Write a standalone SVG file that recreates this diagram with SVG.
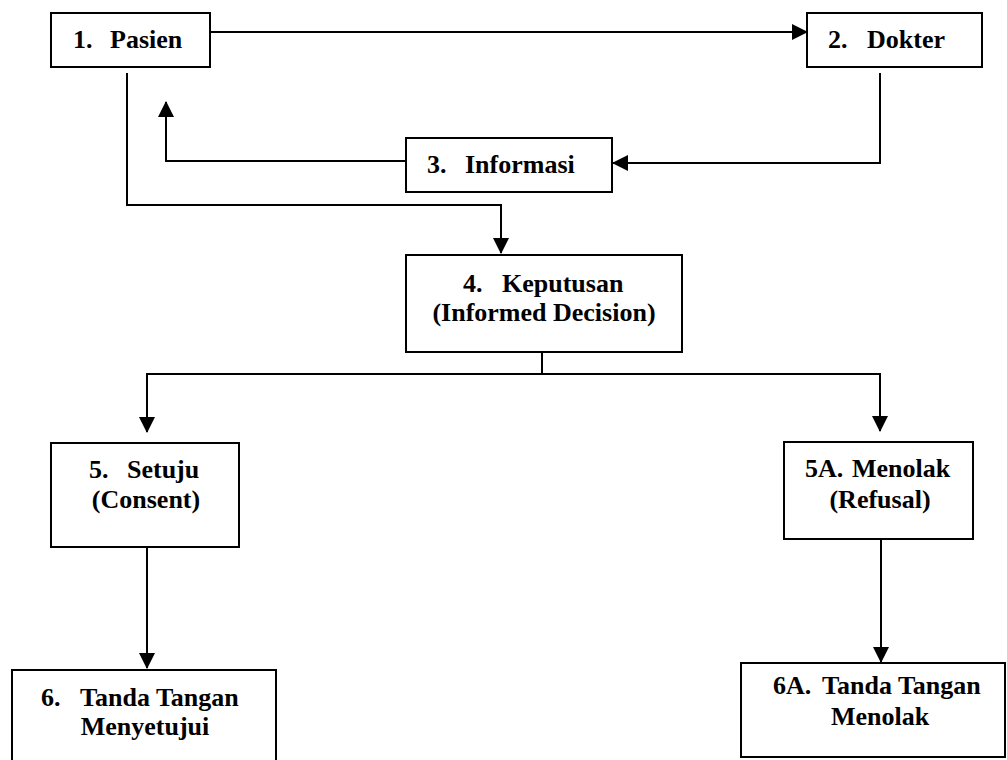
<svg xmlns="http://www.w3.org/2000/svg" width="1007" height="760" viewBox="0 0 1007 760">
<style>
.box{fill:#fff;stroke:#000;stroke-width:2}
text{font-family:'Liberation Serif','Times New Roman','DejaVu Serif',serif;font-weight:bold;font-size:26px;fill:#000}
.m{text-anchor:middle}
.c{fill:none;stroke:#000;stroke-width:2}
</style>
<defs>
<marker id="ah" markerUnits="userSpaceOnUse" markerWidth="16" markerHeight="16" refX="15" refY="8" orient="auto">
<path d="M0,0 L16,8 L0,16 z" fill="#000"/>
</marker>
</defs>
<rect width="1007" height="760" fill="#fff"/>
<g id="connectors">
<path class="c" d="M210,32 H807" marker-end="url(#ah)"/>
<path class="c" d="M880,73 V163 H613" marker-end="url(#ah)"/>
<path class="c" d="M406,161 H166 V102" marker-end="url(#ah)"/>
<path class="c" d="M127,73 V205 H501 V253" marker-end="url(#ah)"/>
<path class="c" d="M542,352 V374 H147 V432" marker-end="url(#ah)"/>
<path class="c" d="M542,374 H880 V431" marker-end="url(#ah)"/>
<path class="c" d="M147,545 V668" marker-end="url(#ah)"/>
<path class="c" d="M881,539 V662" marker-end="url(#ah)"/>
</g>
<g id="n1">
<rect class="box" x="51" y="13" width="159" height="54"/>
<text y="48"><tspan x="73">1.</tspan><tspan x="110">Pasien</tspan></text>
</g>
<g id="n2">
<rect class="box" x="807" y="13" width="175" height="54"/>
<text y="48"><tspan x="828">2.</tspan><tspan x="867">Dokter</tspan></text>
</g>
<g id="n3">
<rect class="box" x="406" y="138" width="206" height="54"/>
<text y="173"><tspan x="427">3.</tspan><tspan x="465">Informasi</tspan></text>
</g>
<g id="n4">
<rect class="box" x="406" y="255" width="276" height="97"/>
<text y="292"><tspan x="463">4.</tspan><tspan x="502">Keputusan</tspan></text>
<text class="m" x="544" y="321">(Informed Decision)</text>
</g>
<g id="n5">
<rect class="box" x="51" y="443" width="188" height="104"/>
<text y="478"><tspan x="89">5.</tspan><tspan x="127">Setuju</tspan></text>
<text class="m" x="146" y="508">(Consent)</text>
</g>
<g id="n5a">
<rect class="box" x="784" y="442" width="189" height="97"/>
<text y="477"><tspan x="805">5A.</tspan><tspan x="852">Menolak</tspan></text>
<text class="m" x="880" y="508">(Refusal)</text>
</g>
<g id="n6">
<rect class="box" x="12" y="670" width="264" height="100"/>
<text y="706"><tspan x="41">6.</tspan><tspan x="80">Tanda Tangan</tspan></text>
<text class="m" x="145" y="735">Menyetujui</text>
</g>
<g id="n6a">
<rect class="box" x="741" y="663" width="264" height="94"/>
<text y="694"><tspan x="773">6A.</tspan><tspan x="822">Tanda Tangan</tspan></text>
<text class="m" x="880" y="725">Menolak</text>
</g>
</svg>
